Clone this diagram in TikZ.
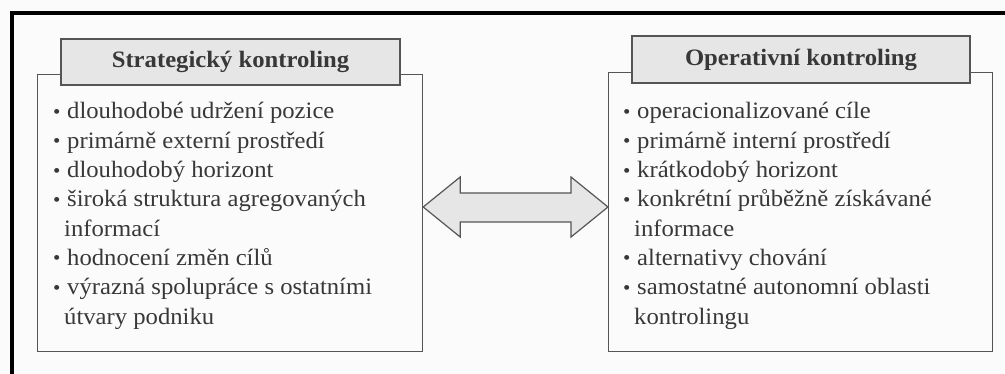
\documentclass[tikz,border=0pt]{standalone}
\usepackage{fontspec}
\usetikzlibrary{calc}
\setmainfont{Liberation Serif}[FakeStretch=1.05]
\definecolor{ink}{HTML}{383838}
\definecolor{rule}{HTML}{555555}
\definecolor{shade}{HTML}{E6E6E6}
\definecolor{paper}{HTML}{FBFBFB}
\tikzset{
  frame/.style={draw=rule, line width=1.2pt, fill=paper, inner sep=0pt, anchor=north west},
  titlebox/.style={draw=rule, line width=1.2pt, fill=shade, inner sep=0pt, text=ink,
    font=\fontsize{23.5}{25}\selectfont\bfseries},
  item/.style={anchor=base west, inner sep=0pt, text=ink, font=\fontsize{23.5}{29.5}\selectfont},
  dblarrow/.style={draw=rule, line width=1.2pt, fill=shade, line join=miter}
}
\newcommand{\bul}{\makebox[14pt][l]{\raisebox{0.5pt}{\fontsize{20}{20}\selectfont\textbullet}}}
\newcommand{\cont}{\hspace*{11pt}}
\begin{document}
\begin{tikzpicture}[x=1pt,y=-1pt]
\useasboundingbox[fill=paper] (0,0) rectangle (1005,374);
% outer black frame (cropped at right and bottom)
\draw[line width=4pt, black] (1012,13.5) -- (12,13.5) -- (12,380);
% boxes
\node[frame, minimum width=385pt, minimum height=277pt] (L) at (37,74) {};
\node[frame, minimum width=384pt, minimum height=279pt] (R) at (608,72) {};
% titles
\node[titlebox, minimum width=339pt, minimum height=46pt] (Lt) at (230.5,62) {Strategický kontroling};
\node[titlebox, minimum width=338pt, minimum height=47pt] (Rt) at (801,59.5) {Operativní kontroling};
% left items
\node[item] (L1) at (53,119)   {\bul dlouhodobé udržení pozice};
\node[item] (L2) at (53,148.3) {\bul primárně externí prostředí};
\node[item] (L3) at (53,177.6) {\bul dlouhodobý horizont};
\node[item] (L4) at (53,206.9) {\bul široká struktura agregovaných};
\node[item] (L5) at (53,236.2) {\cont informací};
\node[item] (L6) at (53,265.5) {\bul hodnocení změn cílů};
\node[item] (L7) at (53,294.8) {\bul výrazná spolupráce s ostatními};
\node[item] (L8) at (53,324.1) {\cont útvary podniku};
% right items
\node[item] (R1) at (623,119)   {\bul operacionalizované cíle};
\node[item] (R2) at (623,148.3) {\bul primárně interní prostředí};
\node[item] (R3) at (623,177.6) {\bul krátkodobý horizont};
\node[item] (R4) at (623,206.9) {\bul konkrétní průběžně získávané};
\node[item] (R5) at (623,236.2) {\cont informace};
\node[item] (R6) at (623,265.5) {\bul alternativy chování};
\node[item] (R7) at (623,294.8) {\bul samostatné autonomní oblasti};
\node[item] (R8) at (623,324.1) {\cont kontrolingu};
% double arrow between the boxes
\coordinate (tipL) at (L.east |- 0,207);
\coordinate (tipR) at (R.west |- 0,207);
\draw[dblarrow] (tipL) -- ++(37,-30) -- ++(0,16) -- ($(tipR)+(-37,-14)$) -- ++(0,-16) -- (tipR)
  -- ++(-37,30) -- ++(0,-15) -- ($(tipL)+(37,15)$) -- ++(0,15) -- cycle;
\end{tikzpicture}
\end{document}
